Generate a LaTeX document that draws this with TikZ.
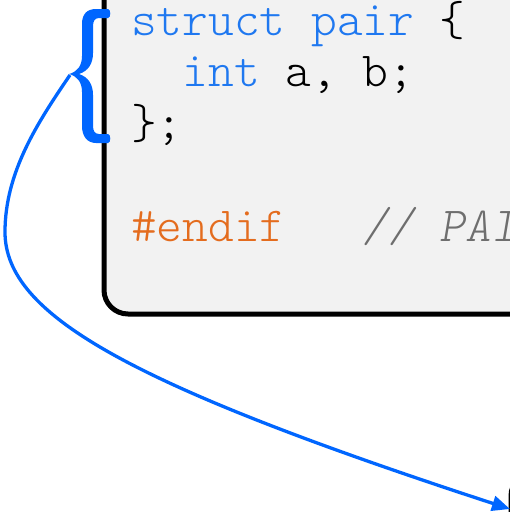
\documentclass[tikz,border=0pt]{standalone}
\usepackage{fontspec}
\usetikzlibrary{arrows.meta}
\definecolor{codeblue}{HTML}{1F78F0}
\definecolor{linkblue}{HTML}{0066FF}
\definecolor{codeorange}{HTML}{E46C1E}
\definecolor{codegray}{HTML}{6E6E6E}
\definecolor{boxgray}{HTML}{F2F2F2}
\begin{document}
\begin{tikzpicture}[x=1pt,y=-1pt,
  codeline/.style={anchor=base west,inner sep=0pt,font=\fontsize{49}{51}\selectfont\ttfamily\fontseries{l}\selectfont},
  codebox/.style={draw=black,line width=5pt,fill=boxgray,rounded corners=24pt},
  otherbox/.style={draw=black,line width=5pt,rounded corners=24pt},
  braceshape/.style={fill=linkblue},
  link/.style={draw=linkblue,line width=3.3pt,-{Triangle[length=18pt,width=15pt]}}]
\useasboundingbox (0,0) rectangle (510,512);
\clip (0,0) rectangle (510,512);
\fill[white] (0,0) rectangle (510,512);
% code box
\path[codebox] (104,-60) rectangle (700,314);
% next box (partly visible)
\path[otherbox] (511,472) rectangle (700,700);
% code lines
\node[codeline,text=codeblue] (l1) at (131,35) {struct pair \textcolor{black}{\{}};
\node[codeline,text=codeblue] (l2) at (182.4,86.5) {int \textcolor{black}{a, b;}};
\node[codeline,text=black] (l3) at (131,138) {\};};
\node[codeline,text=codeorange] (l5) at (131,241) {\#endif~~~\textcolor{codegray}{\itshape // PAIR\_H\_}};
% brace
\path[braceshape] (108,9) -- (96,9) .. controls (87,9) and (82,14) .. (82,24) -- (82,56)
  .. controls (82,66) and (77,72) .. (69,74)
  .. controls (77,76) and (82,82) .. (82,92) -- (82,126)
  .. controls (82,136) and (87,143) .. (96,143) -- (108,143)
  .. controls (111,143) and (111,134) .. (108,134) -- (99,134)
  .. controls (95,134) and (93,131) .. (93,126) -- (93,95)
  .. controls (93,84) and (88,77) .. (79,74)
  .. controls (88,71) and (93,64) .. (93,53) -- (93,26)
  .. controls (93,21) and (95,18) .. (99,18) -- (108,18)
  .. controls (111,18) and (111,9) .. (108,9) -- cycle;
% connector
\coordinate (bracetip) at (70,75);
\coordinate (bend) at (5,232);
\coordinate (target) at (510,509);
\path[link] (bracetip) .. controls (38,122) and (5,172) .. (bend)
  .. controls (5,315) and (130,385) .. (target);
\end{tikzpicture}
\end{document}
